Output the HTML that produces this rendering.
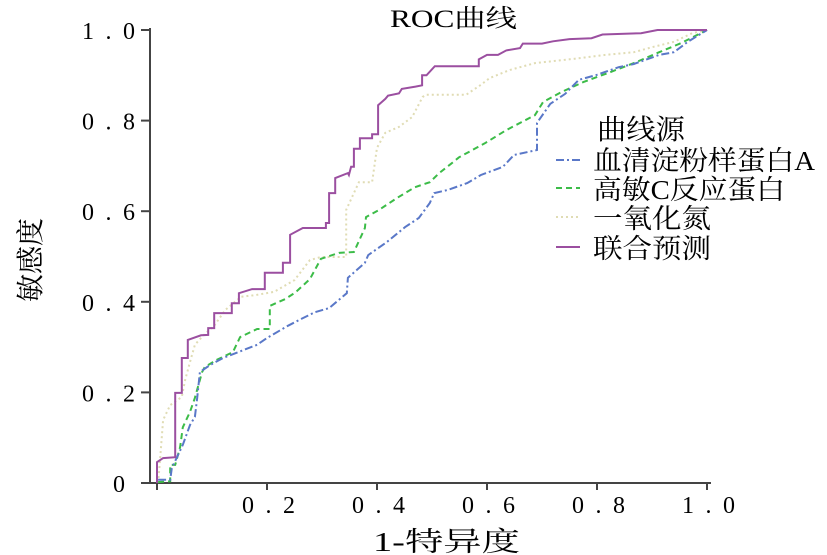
<!DOCTYPE html>
<html><head><meta charset="utf-8"><style>
body{margin:0;background:#fff;}
svg{display:block;font-family:"Liberation Serif","Noto Serif CJK SC","Noto Sans CJK SC",serif;}
</style></head><body>
<svg id="chart" width="827" height="555" viewBox="0 0 827 555">
<text x="390" y="27" font-size="25" textLength="127" lengthAdjust="spacingAndGlyphs">ROC曲线</text>
<g id="axes"></g>
<g id="series"></g>
<text x="373" y="551" font-size="27" textLength="147" lengthAdjust="spacingAndGlyphs">1-特异度</text>
<text x="0" y="0" font-size="28" text-anchor="middle" transform="translate(40,260) rotate(-90)">敏感度</text>
<g>
<text x="597" y="139" font-size="28" textLength="88" lengthAdjust="spacingAndGlyphs">曲线源</text>
<g><line x1="556" y1="160" x2="580" y2="160" stroke="#5a78c8" stroke-width="2" stroke-dasharray="8,3,2,3"/><text x="593" y="170" font-size="27" textLength="222" lengthAdjust="spacingAndGlyphs">血清淀粉样蛋白A</text></g>
<g><line x1="556" y1="188" x2="580" y2="188" stroke="#3cbc48" stroke-width="2" stroke-dasharray="6,4"/><text x="593" y="199" font-size="27" textLength="192" lengthAdjust="spacingAndGlyphs">高敏C反应蛋白</text></g>
<g><line x1="556" y1="217" x2="580" y2="217" stroke="#e0dcb4" stroke-width="2" stroke-dasharray="2,3"/><text x="593" y="228" font-size="27" textLength="118" lengthAdjust="spacingAndGlyphs">一氧化氮</text></g>
<g><line x1="556" y1="247" x2="580" y2="247" stroke="#9b4fa0" stroke-width="2"/><text x="593" y="258" font-size="27" textLength="118" lengthAdjust="spacingAndGlyphs">联合预测</text></g>
</g>
</svg>
<script>
const xTicks=[0.2,0.4,0.6,0.8,1.0];
const xTickLabels=["0.2","0.4","0.6","0.8","1.0"];
const yTicks=[0,0.2,0.4,0.6,0.8,1.0];
const yTickLabels=["0","0.2","0.4","0.6","0.8","1.0"];
const saaX=[0.002,0.024,0.027,0.047,0.06,0.069,0.073,0.078,0.096,0.12,0.182,0.2,0.238,0.262,0.287,0.313,0.345,0.347,0.378,0.384,0.418,0.451,0.476,0.496,0.504,0.529,0.564,0.589,0.629,0.649,0.691,0.691,0.715,0.742,0.767,0.8,0.84,0.867,0.913,0.94,0.965,1];
const saaY=[0.007,0.007,0.033,0.084,0.128,0.146,0.188,0.245,0.26,0.276,0.305,0.32,0.347,0.362,0.377,0.386,0.419,0.453,0.486,0.503,0.532,0.565,0.585,0.618,0.64,0.647,0.662,0.68,0.698,0.724,0.735,0.795,0.837,0.859,0.89,0.901,0.918,0.925,0.945,0.951,0.974,1];
const crpX=[0.002,0.024,0.024,0.033,0.042,0.047,0.06,0.069,0.082,0.087,0.109,0.138,0.151,0.182,0.205,0.205,0.233,0.251,0.278,0.298,0.331,0.358,0.378,0.38,0.404,0.436,0.469,0.496,0.513,0.536,0.549,0.596,0.635,0.687,0.702,0.735,0.775,0.82,0.867,0.913,0.953,1];
const crpY=[0.002,0.004,0.04,0.04,0.079,0.123,0.157,0.188,0.245,0.256,0.272,0.289,0.322,0.34,0.34,0.391,0.406,0.42,0.45,0.495,0.508,0.51,0.563,0.587,0.603,0.629,0.653,0.664,0.684,0.706,0.719,0.75,0.779,0.812,0.841,0.863,0.885,0.905,0.927,0.951,0.971,1];
const noX=[0.002,0.005,0.011,0.024,0.045,0.051,0.06,0.069,0.082,0.105,0.124,0.153,0.18,0.213,0.25,0.278,0.298,0.344,0.344,0.367,0.391,0.4,0.415,0.44,0.464,0.483,0.489,0.562,0.589,0.605,0.642,0.687,0.755,0.815,0.867,0.9,0.94,0.973,1];
const noY=[0,0.044,0.139,0.172,0.19,0.227,0.267,0.305,0.323,0.349,0.382,0.411,0.415,0.422,0.448,0.492,0.499,0.499,0.603,0.664,0.664,0.74,0.773,0.786,0.808,0.852,0.857,0.857,0.879,0.894,0.912,0.927,0.936,0.945,0.951,0.962,0.974,0.993,1];
const combX=[0,0,0.011,0.033,0.033,0.045,0.045,0.056,0.056,0.08,0.093,0.093,0.104,0.104,0.136,0.136,0.149,0.149,0.173,0.196,0.196,0.229,0.229,0.242,0.242,0.265,0.307,0.307,0.313,0.313,0.324,0.324,0.347,0.349,0.353,0.358,0.358,0.369,0.369,0.391,0.391,0.402,0.402,0.415,0.42,0.44,0.445,0.47,0.482,0.482,0.49,0.505,0.512,0.585,0.585,0.6,0.62,0.635,0.66,0.665,0.7,0.72,0.75,0.79,0.81,0.88,0.91,1];
const combY=[0,0.046,0.055,0.057,0.199,0.199,0.276,0.276,0.316,0.326,0.327,0.342,0.342,0.375,0.375,0.397,0.397,0.419,0.428,0.428,0.464,0.464,0.486,0.486,0.548,0.563,0.563,0.574,0.574,0.64,0.64,0.673,0.684,0.68,0.698,0.698,0.738,0.738,0.761,0.761,0.77,0.77,0.834,0.848,0.855,0.86,0.87,0.875,0.878,0.9,0.9,0.92,0.92,0.92,0.935,0.945,0.945,0.955,0.96,0.97,0.97,0.975,0.98,0.982,0.99,0.993,1,1];

const NS="http://www.w3.org/2000/svg";
const X0=157,XW=550,Y0=483,YH=453;
function sx(v){return X0+v*XW;}
function sy(v){return Y0-v*YH;}
const axes=document.getElementById('axes');
function mk(tag,attrs,parent){const e=document.createElementNS(NS,tag);for(const k in attrs)e.setAttribute(k,attrs[k]);parent.appendChild(e);return e;}
const ya=mk('line',{x1:150,y1:sy(1)-2,x2:150,y2:Y0,stroke:'#444','stroke-width':2},axes);


const xa=mk('line',{x1:150,y1:Y0,x2:sx(1)+4,y2:Y0,stroke:'#444','stroke-width':2},axes);


yTicks.forEach((v,i)=>{
 const t=mk('line',{x1:141,y1:sy(v),x2:150,y2:sy(v),stroke:'#444','stroke-width':2},axes);
 
 
 const s=yTickLabels[i];
 const attrs={x:s.length>1?82:113,y:sy(v)+9,'font-size':24};
 if(s.length>1){attrs.textLength=53;attrs.lengthAdjust='spacing';}
 const l=mk('text',attrs,axes);
 l.textContent=s;
 
 
});
{const t0=mk('line',{x1:sx(0),y1:Y0,x2:sx(0),y2:Y0+7,stroke:'#444','stroke-width':2},axes);
 
 }
xTicks.forEach((v,i)=>{
 const t=mk('line',{x1:sx(v),y1:Y0,x2:sx(v),y2:Y0+7,stroke:'#444','stroke-width':2},axes);
 
 
 const l=mk('text',{x:sx(v)-25,y:Y0+30,'font-size':24,textLength:53,lengthAdjust:'spacing'},axes);
 l.textContent=xTickLabels[i];
 
 
});
const ser=document.getElementById('series');
function draw(xs,ys,color,dash,name){
 const d=xs.map((x,i)=>(i?'L':'M')+sx(x).toFixed(1)+','+sy(ys[i]).toFixed(1)).join(' ');
 const p=mk('path',{d:d,fill:'none',stroke:color,'stroke-width':2},ser);
 if(dash)p.setAttribute('stroke-dasharray',dash);
 
 
}
draw(noX,noY,'#e0dcb4','2,3','series-nitric-oxide');
draw(crpX,crpY,'#3cbc48','6,4','series-hs-crp');
draw(saaX,saaY,'#5a78c8','8,3,2,3','series-saa');
draw(combX,combY,'#9b4fa0',null,'series-combined');
</script>
</body></html>
